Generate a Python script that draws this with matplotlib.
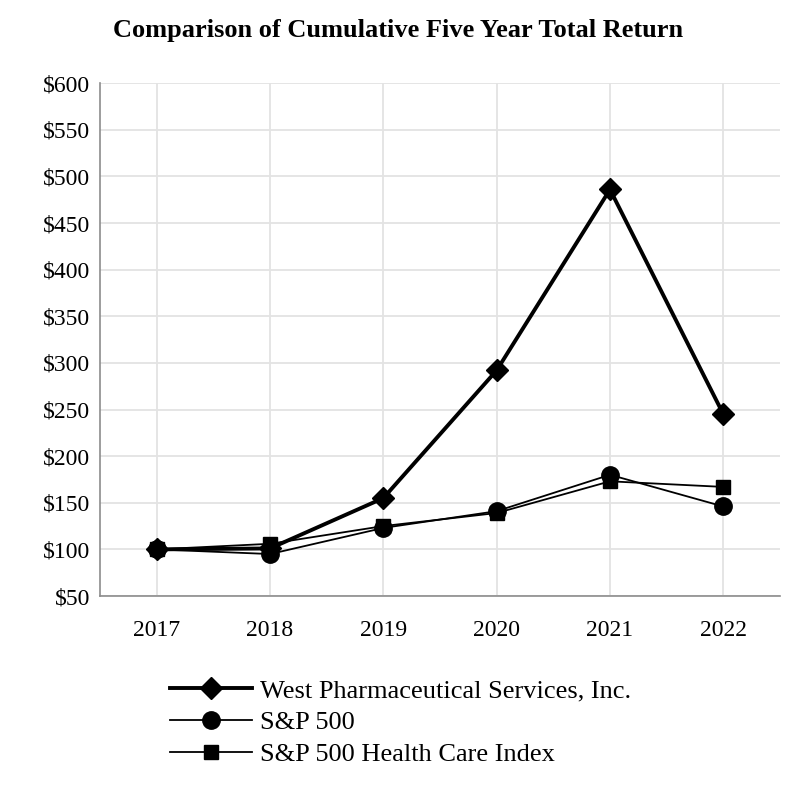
import matplotlib.pyplot as plt
import numpy as np

years = ['2017', '2018', '2019', '2020', '2021', '2022']
west = [100, 101, 155, 292, 486, 245]
sp500 = [100, 95, 123, 141, 180, 146]
sp_health = [100, 106, 125, 139, 173, 167]
yticks = list(range(50, 601, 50))

plt.rcParams['font.family'] = ['Liberation Serif', 'DejaVu Serif']

fig = plt.figure(figsize=(8, 8), dpi=100)
ax = fig.add_axes([0.125, 0.255, 0.85, 0.641])

x = np.arange(len(years))
ax.plot(x, west, color='black', lw=2.8, marker='D', markersize=11,
        label='West Pharmaceutical Services, Inc.', zorder=4)
ax.plot(x, sp500, color='black', lw=1.3, marker='o', markersize=12.5,
        label='S&P 500', zorder=3)
ax.plot(x, sp_health, color='black', lw=1.3, marker='s', markersize=10,
        label='S&P 500 Health Care Index', zorder=3)

ax.set_xlim(-0.5, len(years) - 0.5)
ax.set_ylim(50, 600)
ax.set_xticks(x)
ax.set_xticklabels(years, fontsize=17)
ax.set_yticks(yticks)
ax.set_yticklabels(['$%d' % v for v in yticks], fontsize=17)
ax.tick_params(length=0)
ax.tick_params(axis='x', pad=17)
ax.tick_params(axis='y', pad=7)

ax.grid(True, color='#e3e3e3', lw=1.3)
ax.set_axisbelow(True)
for s in ['top', 'right']:
    ax.spines[s].set_visible(False)
for s in ['left', 'bottom']:
    ax.spines[s].set_color('#8c8c8c')
    ax.spines[s].set_linewidth(1.2)

fig.text(0.498, 0.962, 'Comparison of Cumulative Five Year Total Return',
         ha='center', va='center', fontsize=19, fontweight='bold')

fig.legend(loc='upper left', bbox_to_anchor=(0.213, 0.151), frameon=False,
           fontsize=19, handlelength=3.1, handletextpad=0.3,
           labelspacing=0.31, borderaxespad=0, borderpad=0)

plt.savefig('out.png', dpi=100)
